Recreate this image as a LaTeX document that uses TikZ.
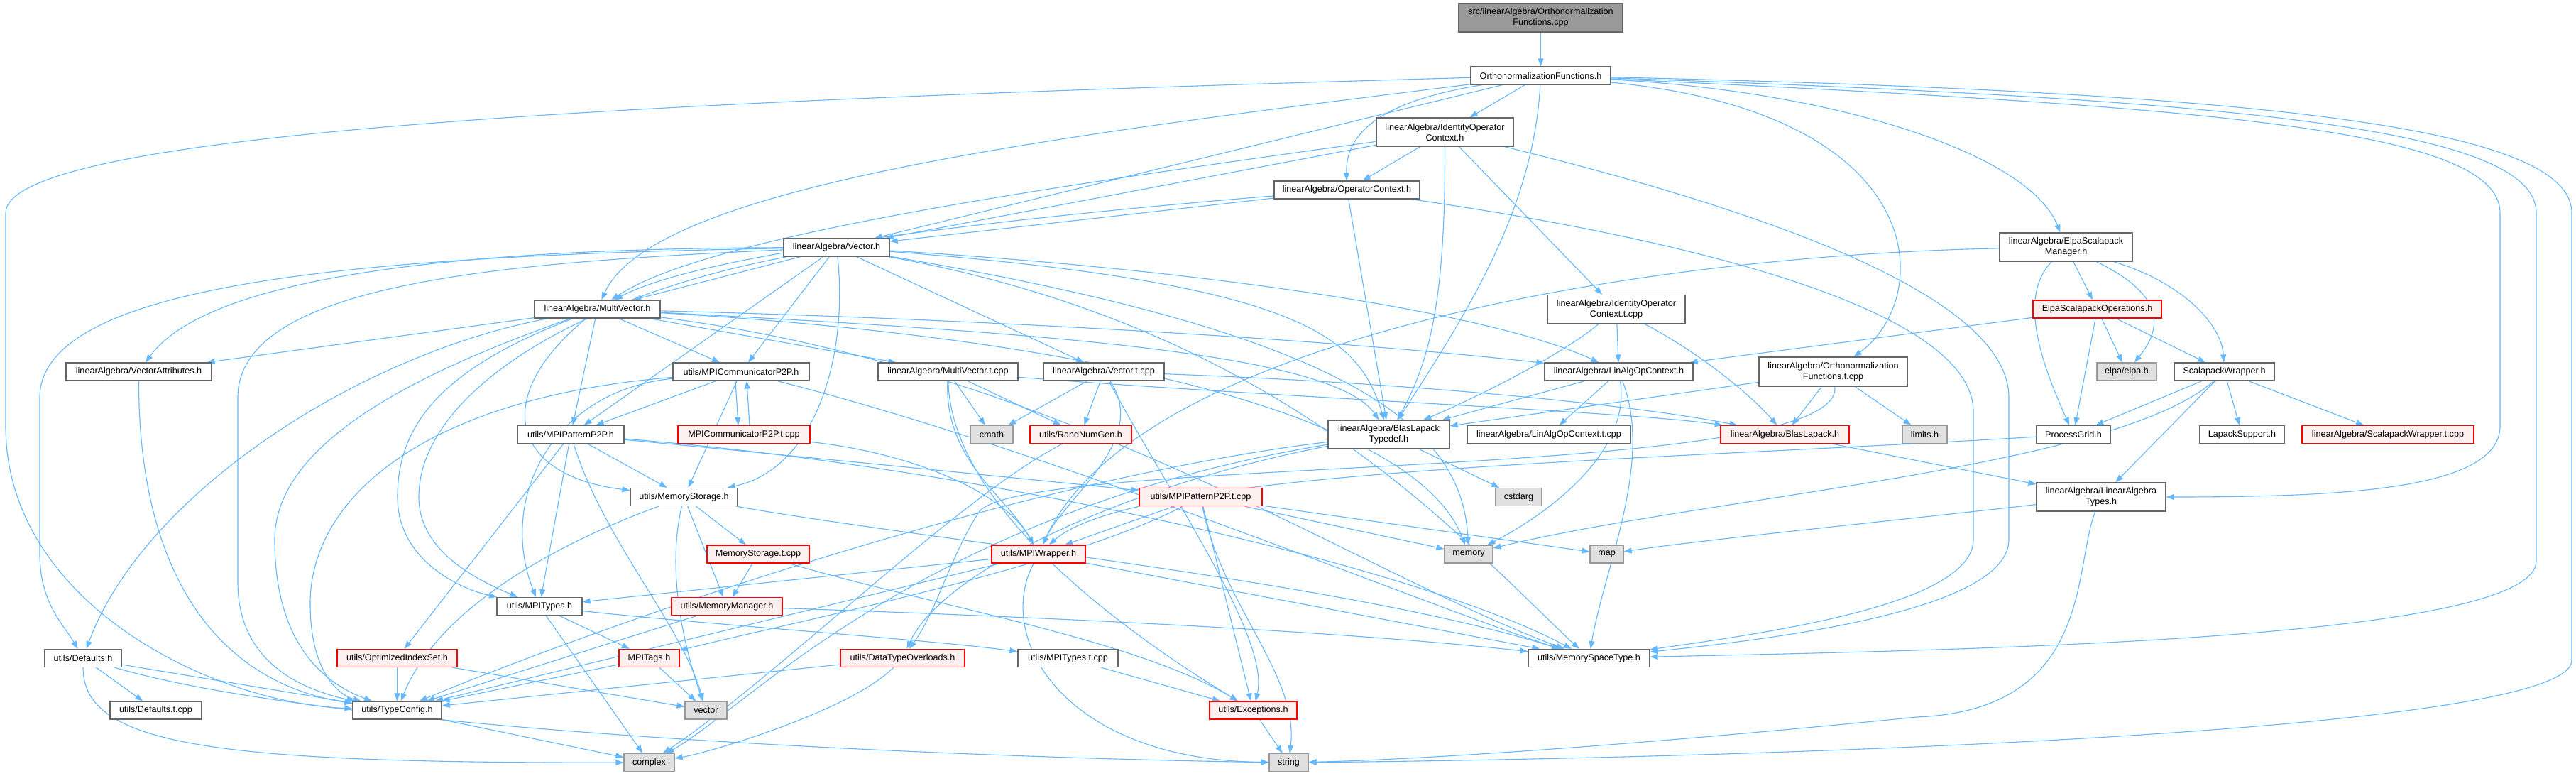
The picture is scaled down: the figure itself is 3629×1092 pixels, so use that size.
\documentclass[tikz,border=0pt]{standalone}
\usepackage{fontspec}
\newfontfamily\lsans{Liberation Sans}
\usetikzlibrary{arrows.meta}
\definecolor{edgec}{HTML}{63B8FF}
\definecolor{nbord}{HTML}{666666}
\definecolor{redfill}{HTML}{FFF0F0}
\definecolor{grayfill}{HTML}{E0E0E0}
\definecolor{graybord}{HTML}{999999}
\definecolor{topfill}{HTML}{999999}
\pgfdeclarelayer{bg}
\pgfsetlayers{bg,main}
\newcommand{\mynode}[7]{\node[#1, minimum width=#5pt, minimum height=#6pt] (#2) at (#3,#4) {#7};}
\begin{document}
\begin{tikzpicture}[x=1pt,y=-1pt,
  nb/.style={draw=nbord, fill=white, line width=1.2pt, inner sep=0pt, align=center, font={\lsans\fontsize{12.6}{15}\selectfont}},
  nr/.style={nb, draw=red, fill=redfill},
  ng/.style={nb, draw=graybord, fill=grayfill},
  ntop/.style={nb, fill=topfill},
  e/.style={draw=edgec, line width=1.1pt, -{Triangle[length=11pt,width=8pt]}}]
\useasboundingbox (0,0) rectangle (3629,1092);
% nodes
\mynode{ntop}{src}{2170.5}{25}{231}{40}{src/linearAlgebra/Orthonormalization\\Functions.cpp}
\mynode{nb}{OFh}{2170.5}{106.5}{197}{25}{OrthonormalizationFunctions.h}
\mynode{nb}{IOC}{2035.5}{186}{193}{40}{linearAlgebra/IdentityOperator\\Context.h}
\mynode{nb}{OpC}{1897.5}{267.5}{205}{25}{linearAlgebra/OperatorContext.h}
\mynode{nb}{Vec}{1178.5}{348.5}{149}{25}{linearAlgebra/Vector.h}
\mynode{nb}{ESM}{2910.5}{348}{187}{40}{linearAlgebra/ElpaScalapack\\Manager.h}
\mynode{nb}{IOCt}{2277}{435.5}{194}{40}{linearAlgebra/IdentityOperator\\Context.t.cpp}
\mynode{nb}{MV}{841.5}{435.5}{177}{25}{linearAlgebra/MultiVector.h}
\mynode{nr}{ESO}{2954.5}{435.5}{181}{25}{ElpaScalapackOperations.h}
\mynode{nb}{VA}{195.5}{523.5}{205}{25}{linearAlgebra/VectorAttributes.h}
\mynode{nb}{MPIC}{1044}{523.5}{192}{25}{utils/MPICommunicatorP2P.h}
\mynode{nb}{MVt}{1335.5}{523.5}{197}{25}{linearAlgebra/MultiVector.t.cpp}
\mynode{nb}{Vt}{1555}{523.5}{170}{25}{linearAlgebra/Vector.t.cpp}
\mynode{nb}{LAOC}{2280.5}{523.5}{209}{25}{linearAlgebra/LinAlgOpContext.h}
\mynode{nb}{OFt}{2582.5}{523.5}{209}{41}{linearAlgebra/Orthonormalization\\Functions.t.cpp}
\mynode{ng}{elpa}{2996}{523.5}{84}{25}{elpa/elpa.h}
\mynode{nb}{SW}{3133.5}{523.5}{141}{25}{ScalapackWrapper.h}
\mynode{nb}{PP}{804}{612}{150}{25}{utils/MPIPatternP2P.h}
\mynode{nr}{MPICt}{1048}{612}{186}{25}{MPICommunicatorP2P.t.cpp}
\mynode{ng}{cmath}{1397}{612}{60}{25}{cmath}
\mynode{nr}{RNG}{1522.5}{612}{143}{25}{utils/RandNumGen.h}
\mynode{nb}{BLT}{1956.5}{612}{171}{40}{linearAlgebra/BlasLapack\\Typedef.h}
\mynode{nb}{LAOCt}{2182}{612}{230}{25}{linearAlgebra/LinAlgOpContext.t.cpp}
\mynode{nr}{BL}{2514.5}{612}{181}{25}{linearAlgebra/BlasLapack.h}
\mynode{ng}{limits}{2711.5}{612}{63}{25}{limits.h}
\mynode{nb}{PG}{2921}{612}{104}{25}{ProcessGrid.h}
\mynode{nb}{LS}{3158.5}{612}{119}{25}{LapackSupport.h}
\mynode{nr}{SWt}{3364}{612}{242}{25}{linearAlgebra/ScalapackWrapper.t.cpp}
\mynode{nb}{MS}{963.5}{700}{151}{25}{utils/MemoryStorage.h}
\mynode{nr}{PPt}{1691.5}{700}{173}{25}{utils/MPIPatternP2P.t.cpp}
\mynode{ng}{cstdarg}{2139.5}{700}{65}{25}{cstdarg}
\mynode{nb}{LAT}{2960}{700}{182}{40}{linearAlgebra/LinearAlgebra\\Types.h}
\mynode{nr}{MSt}{1068}{780.5}{144}{25}{MemoryStorage.t.cpp}
\mynode{nr}{MPIW}{1463}{780.5}{132}{25}{utils/MPIWrapper.h}
\mynode{ng}{memory}{2069}{780.5}{68}{25}{memory}
\mynode{ng}{map}{2263.5}{780.5}{47}{25}{map}
\mynode{nb}{MT}{760}{854}{120}{25}{utils/MPITypes.h}
\mynode{nr}{MM}{1024}{854}{156}{25}{utils/MemoryManager.h}
\mynode{nb}{Def}{117}{927}{108}{25}{utils/Defaults.h}
\mynode{nr}{OIS}{559.5}{927}{169}{25}{utils/OptimizedIndexSet.h}
\mynode{nr}{Tags}{914.5}{927}{85}{25}{MPITags.h}
\mynode{nr}{DTO}{1271.5}{927}{175}{25}{utils/DataTypeOverloads.h}
\mynode{nb}{MTt}{1504.5}{927}{141}{25}{utils/MPITypes.t.cpp}
\mynode{nb}{MST}{2238.5}{927}{171}{25}{utils/MemorySpaceType.h}
\mynode{nb}{Deft}{219.5}{1000.5}{129}{25}{utils/Defaults.t.cpp}
\mynode{nb}{TC}{559.5}{1000.5}{125}{25}{utils/TypeConfig.h}
\mynode{ng}{vector}{994.5}{1000.5}{59}{25}{vector}
\mynode{nr}{Exc}{1765.5}{1000.5}{123}{25}{utils/Exceptions.h}
\mynode{ng}{complex}{914.5}{1074}{71}{25}{complex}
\mynode{ng}{string}{1815.5}{1074}{55}{25}{string}
% edges (behind the nodes)
\begin{pgfonlayer}{bg}
\fill[white] (0,0) rectangle (3629,1092);
\draw[e] (src) -- (OFh);
\draw[e] (OFh) -- (IOC);
\draw[e] (OFh) .. controls (1960,140) and (1895,180) .. (OpC);
\draw[e] (OFh) -- (Vec);
\draw[e] (OFh) .. controls (1500,190) and (920,260) .. (MV);
\draw[e] (OFh) .. controls (2160,300) and (2060,450) .. (BLT);
\draw[e] (OFh) .. controls (2600,130) and (2860,220) .. (ESM);
\draw[e] (OFh) .. controls (2725,160) and (2725,420) .. (OFt);
\draw[e] (OFh) .. controls (3100,150) and (3522,180) .. (3522,300) -- (3522,600) .. controls (3522,690) and (3300,700) .. (LAT);
\draw[e] (OFh) .. controls (3150,140) and (3573,180) .. (3573,300) -- (3573,790) .. controls (3573,900) and (2800,915) .. (MST);
\draw[e] (OFh) .. controls (3200,130) and (3623,180) .. (3623,300) -- (3623,930) .. controls (3623,1040) and (2300,1070) .. (string);
\draw[e] (OFh) .. controls (1000,140) and (8,180) .. (8,300) -- (8,600) .. controls (8,850) and (300,990) .. (TC);
\draw[e] (IOC) -- (OpC);
\draw[e] (IOC) -- (Vec);
\draw[e] (IOC) .. controls (1500,260) and (1000,330) .. (MV);
\draw[e] (IOC) .. controls (2036,400) and (2020,500) .. (BLT);
\draw[e] (IOC) -- (IOCt);
\draw[e] (IOC) .. controls (2500,300) and (2830,420) .. (2830,560) -- (2830,760) .. controls (2830,860) and (2500,900) .. (MST);
\draw[e] (OpC) -- (Vec);
\draw[e] (OpC) .. controls (1500,300) and (1000,350) .. (MV);
\draw[e] (OpC) -- (BLT);
\draw[e] (OpC) .. controls (2400,340) and (2780,440) .. (2780,580) -- (2780,760) .. controls (2780,850) and (2500,890) .. (MST);
\draw[e] (Vec) -- (MV);
\draw[e] (Vec) .. controls (700,350) and (300,380) .. (VA);
\draw[e] (Vec) .. controls (500,360) and (56,400) .. (56,560) -- (56,780) .. controls (56,850) and (90,880) .. (Def);
\draw[e] (Vec) .. controls (700,370) and (335,400) .. (335,560) -- (335,820) .. controls (335,930) and (420,970) .. (TC);
\draw[e] (Vec) .. controls (800,420) and (590,560) .. (590,700) .. controls (590,780) and (680,820) .. (MT);
\draw[e] (Vec) -- (PP);
\draw[e] (Vec) -- (MPIC);
\draw[e] (Vec) .. controls (1195,500) and (1150,660) .. (MS);
\draw[e] (Vec) -- (Vt);
\draw[e] (Vec) .. controls (1850,400) and (1915,480) .. (BLT);
\draw[e] (Vec) .. controls (1700,380) and (2100,440) .. (LAOC);
\draw[e] (Vec) .. controls (1900,470) and (2060,600) .. (memory);
\draw[e] (Vec) .. controls (1800,460) and (2050,750) .. (MST);
\draw[e] (MV) -- (VA);
\draw[e] (MV) .. controls (500,500) and (200,700) .. (Def);
\draw[e] (MV) .. controls (600,520) and (387,620) .. (387,760) .. controls (387,900) and (450,960) .. (TC);
\draw[e] (MV) .. controls (620,520) and (560,600) .. (560,700) .. controls (560,790) and (650,830) .. (MT);
\draw[e] (MV) -- (PP);
\draw[e] (MV) -- (MPIC);
\draw[e] (MV) .. controls (690,560) and (720,670) .. (MS);
\draw[e] (MV) -- (MVt);
\draw[e] (MV) .. controls (1500,470) and (1880,500) .. (BLT);
\draw[e] (MV) .. controls (1400,450) and (1900,480) .. (LAOC);
\draw[e] (MV) .. controls (1600,480) and (2000,600) .. (memory);
\draw[e] (MV) .. controls (1500,520) and (1900,800) .. (MST);
\draw[e] (MPIC) -- (PP);
\draw[e] (MPIC) -- (MS);
\draw[e] ([xshift=-8pt]MPIC.south) -- ([xshift=-8pt]MPICt.north);
\draw[e] ([xshift=8pt]MPICt.north) -- ([xshift=8pt]MPIC.south);
\draw[e] (MPIC) .. controls (780,550) and (700,700) .. (MT);
\draw[e] (MPIC) .. controls (600,560) and (437,700) .. (437,850) .. controls (437,950) and (480,980) .. (TC);
\draw[e] (MPIC) .. controls (1500,640) and (2000,850) .. (MST);
\draw[e] (MPICt) .. controls (1300,640) and (1420,700) .. (MPIW);
\draw[e] (PP) -- (OIS);
\draw[e] (PP) -- (MT);
\draw[e] (PP) .. controls (850,760) and (960,880) .. (vector);
\draw[e] (PP) -- (MS);
\draw[e] (PP) .. controls (1200,650) and (1500,680) .. (PPt);
\draw[e] (PP) .. controls (1400,660) and (2000,800) .. (MST);
\draw[e] (MS) .. controls (800,760) and (620,850) .. (TC);
\draw[e] (MS) .. controls (940,800) and (960,900) .. (vector);
\draw[e] (MS) -- (MM);
\draw[e] (MS) -- (MSt);
\draw[e] (MS) .. controls (1300,760) and (1900,820) .. (MST);
\draw[e] (MSt) -- (MM);
\draw[e] (MSt) .. controls (1300,850) and (1600,900) .. (Exc);
\draw[e] (MM) -- (TC);
\draw[e] (MM) .. controls (1500,870) and (1900,890) .. (MST);
\draw[e] (MT) -- (Tags);
\draw[e] (MT) -- (complex);
\draw[e] (MT) .. controls (1000,880) and (1300,900) .. (MTt);
\draw[e] (MTt) -- (Exc);
\draw[e] (Tags) -- (TC);
\draw[e] (Tags) -- (vector);
\draw[e] (OIS) -- (TC);
\draw[e] (OIS) -- (vector);
\draw[e] (Def) -- (Deft);
\draw[e] (Def) -- (TC);
\draw[e] (Def) .. controls (117,1050) and (300,1075) .. (complex);
\draw[e] (Def) .. controls (500,1040) and (1500,1070) .. (string);
\draw[e] (TC) -- (complex);
\draw[e] (DTO) -- (TC);
\draw[e] (DTO) .. controls (1200,1000) and (1000,1060) .. (complex);
\draw[e] (RNG) .. controls (1350,700) and (1100,950) .. (complex);
\draw[e] (Exc) -- (string);
\draw[e] (VA) .. controls (195,800) and (300,960) .. (TC);
\draw[e] (MPIW) -- (MT);
\draw[e] (MPIW) -- (TC);
\draw[e] (MPIW) .. controls (1400,900) and (1500,1070) .. (string);
\draw[e] (MPIW) -- (MST);
\draw[e] (PPt) -- (MPIW);
\draw[e] (PPt) .. controls (1500,800) and (1100,880) .. (Tags);
\draw[e] (PPt) -- (Exc);
\draw[e] (PPt) .. controls (1720,850) and (1830,950) .. (string);
\draw[e] (PPt) -- (memory);
\draw[e] (PPt) -- (map);
\draw[e] (MVt) -- (cmath);
\draw[e] (MVt) -- (RNG);
\draw[e] (MVt) .. controls (1330,650) and (1420,700) .. (MPIW);
\draw[e] (MVt) .. controls (1340,720) and (1600,900) .. (Exc);
\draw[e] (MVt) .. controls (1800,560) and (2300,580) .. (BL);
\draw[e] (Vt) -- (cmath);
\draw[e] (Vt) -- (RNG);
\draw[e] (Vt) .. controls (1620,620) and (1500,700) .. (MPIW);
\draw[e] (Vt) .. controls (1650,700) and (1790,900) .. (Exc);
\draw[e] (Vt) .. controls (2000,540) and (2300,570) .. (BL);
\draw[e] (BLT) -- (cstdarg);
\draw[e] (BLT) .. controls (1600,680) and (1330,800) .. (DTO);
\draw[e] (BLT) .. controls (1400,680) and (800,900) .. (TC);
\draw[e] (BLT) .. controls (1300,720) and (1050,1000) .. (complex);
\draw[e] (LAOC) -- (BLT);
\draw[e] (LAOC) -- (LAOCt);
\draw[e] (LAOC) .. controls (2300,650) and (2150,740) .. (memory);
\draw[e] (LAOC) .. controls (2330,650) and (2260,800) .. (MST);
\draw[e] (IOCt) .. controls (2200,500) and (2080,560) .. (BLT);
\draw[e] (IOCt) -- (LAOC);
\draw[e] (IOCt) .. controls (2400,500) and (2470,560) .. (BL);
\draw[e] (OFt) -- (BLT);
\draw[e] (OFt) -- (BL);
\draw[e] (OFt) -- (limits);
\draw[e] (OFt) .. controls (2600,680) and (1450,640) .. (1380,720) .. controls (1340,780) and (1320,860) .. (DTO);
\draw[e] (BL) -- (LAT);
\draw[e] (ESM) -- (ESO);
\draw[e] (ESM) .. controls (3060,420) and (3040,470) .. (elpa);
\draw[e] (ESM) .. controls (3080,400) and (3130,460) .. (SW);
\draw[e] (ESM) .. controls (2840,420) and (2880,520) .. (PG);
\draw[e] (ESM) .. controls (2300,360) and (1600,480) .. (MPIW);
\draw[e] (ESO) -- (LAOC);
\draw[e] (ESO) -- (PG);
\draw[e] (ESO) -- (elpa);
\draw[e] (ESO) -- (SW);
\draw[e] (SW) -- (PG);
\draw[e] (SW) -- (LS);
\draw[e] (SW) -- (SWt);
\draw[e] (SW) -- (LAT);
\draw[e] (SW) .. controls (2980,660) and (2400,700) .. (memory);
\draw[e] (PG) .. controls (2300,650) and (1600,660) .. (MPIW);
\draw[e] (LAT) .. controls (2700,730) and (2400,760) .. (map);
\draw[e] (LAT) .. controls (2920,800) and (2950,1000) .. (2700,1010) .. controls (2300,1050) and (2000,1070) .. (string);
\end{pgfonlayer}
\end{tikzpicture}
\end{document}
